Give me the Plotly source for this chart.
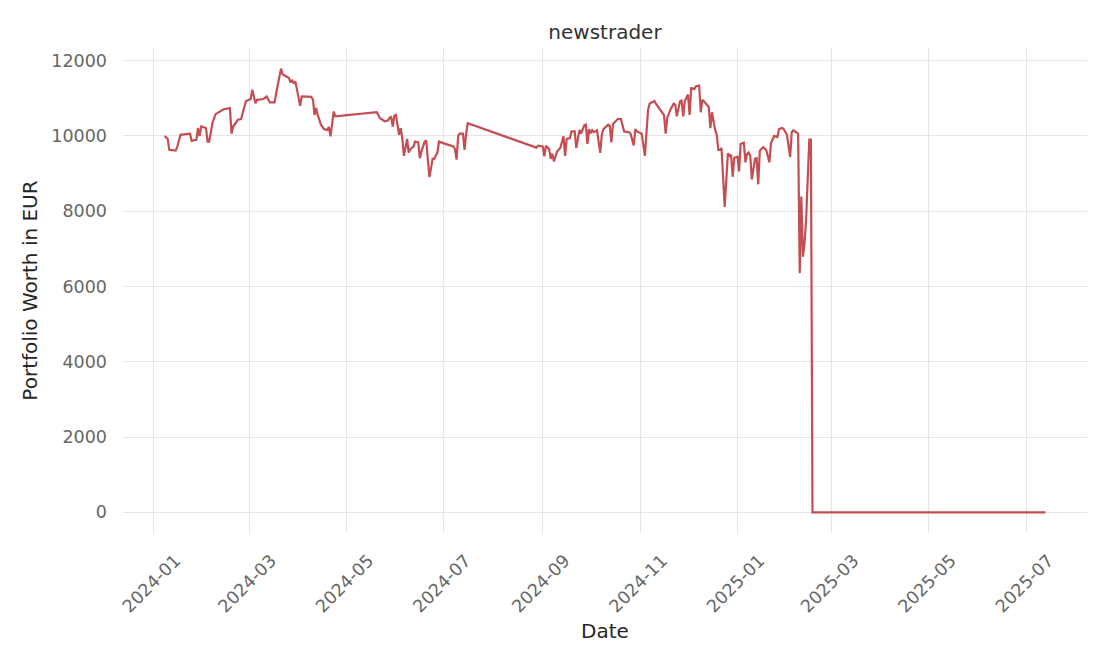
import plotly.graph_objects as go

# portfolio value of the "newstrader" run
dates = [
    "2024-01-08", "2024-01-10", "2024-01-11", "2024-01-15", "2024-01-16", "2024-01-18",
    "2024-01-24", "2024-01-25", "2024-01-28", "2024-01-29", "2024-01-30", "2024-01-31",
    "2024-02-03", "2024-02-04", "2024-02-05", "2024-02-07", "2024-02-09", "2024-02-12",
    "2024-02-14", "2024-02-18", "2024-02-19", "2024-02-20", "2024-02-23", "2024-02-25",
    "2024-02-28", "2024-03-02", "2024-03-03", "2024-03-05", "2024-03-06", "2024-03-10",
    "2024-03-12", "2024-03-14", "2024-03-17", "2024-03-18", "2024-03-21", "2024-03-22",
    "2024-03-25", "2024-03-26", "2024-03-27", "2024-03-28", "2024-03-29", "2024-03-30",
    "2024-03-31", "2024-04-02", "2024-04-03", "2024-04-09", "2024-04-10", "2024-04-11",
    "2024-04-12", "2024-04-13", "2024-04-15", "2024-04-17", "2024-04-19", "2024-04-20",
    "2024-04-21", "2024-04-23", "2024-04-24", "2024-05-20", "2024-05-22", "2024-05-25",
    "2024-05-27", "2024-05-28", "2024-05-29", "2024-05-30", "2024-05-31", "2024-06-01",
    "2024-06-03", "2024-06-04", "2024-06-05", "2024-06-06", "2024-06-08", "2024-06-09",
    "2024-06-10", "2024-06-12", "2024-06-13", "2024-06-15", "2024-06-16", "2024-06-17",
    "2024-06-19", "2024-06-20", "2024-06-21", "2024-06-22", "2024-06-24", "2024-06-25",
    "2024-06-27", "2024-06-28", "2024-07-02", "2024-07-05", "2024-07-07", "2024-07-08",
    "2024-07-09", "2024-07-10", "2024-07-11", "2024-07-13", "2024-07-14", "2024-07-15",
    "2024-07-16", "2024-08-28", "2024-08-29", "2024-09-01", "2024-09-02", "2024-09-03",
    "2024-09-05", "2024-09-06", "2024-09-07", "2024-09-08", "2024-09-10", "2024-09-12",
    "2024-09-14", "2024-09-15", "2024-09-16", "2024-09-18", "2024-09-19", "2024-09-21",
    "2024-09-22", "2024-09-24", "2024-09-25", "2024-09-27", "2024-09-28", "2024-09-29",
    "2024-09-30", "2024-10-01", "2024-10-02", "2024-10-03", "2024-10-05", "2024-10-07",
    "2024-10-08", "2024-10-09", "2024-10-12", "2024-10-13", "2024-10-14", "2024-10-15",
    "2024-10-18", "2024-10-20", "2024-10-22", "2024-10-25", "2024-10-26", "2024-10-28",
    "2024-10-29", "2024-10-30", "2024-11-02", "2024-11-04", "2024-11-05", "2024-11-06",
    "2024-11-07", "2024-11-10", "2024-11-11", "2024-11-14", "2024-11-16", "2024-11-17",
    "2024-11-18", "2024-11-20", "2024-11-22", "2024-11-23", "2024-11-24", "2024-11-26",
    "2024-11-27", "2024-11-28", "2024-11-29", "2024-12-01", "2024-12-02", "2024-12-03",
    "2024-12-05", "2024-12-06", "2024-12-08", "2024-12-09", "2024-12-10", "2024-12-11",
    "2024-12-13", "2024-12-14", "2024-12-15", "2024-12-16", "2024-12-18", "2024-12-19",
    "2024-12-20", "2024-12-21", "2024-12-22", "2024-12-23", "2024-12-24", "2024-12-26",
    "2024-12-27", "2024-12-28", "2024-12-29", "2024-12-30", "2025-01-01", "2025-01-02",
    "2025-01-03", "2025-01-05", "2025-01-06", "2025-01-07", "2025-01-08", "2025-01-09",
    "2025-01-10", "2025-01-12", "2025-01-13", "2025-01-14", "2025-01-15", "2025-01-17",
    "2025-01-19", "2025-01-21", "2025-01-22", "2025-01-24", "2025-01-26", "2025-01-27",
    "2025-01-29", "2025-01-30", "2025-01-31", "2025-02-01", "2025-02-03", "2025-02-04",
    "2025-02-05", "2025-02-07", "2025-02-08", "2025-02-09", "2025-02-10", "2025-02-11",
    "2025-02-12", "2025-02-13", "2025-02-15", "2025-02-16", "2025-02-17", "2025-07-13",
]

worth = [
    10000, 9920, 9630, 9610, 9710, 10030,
    10060, 9870, 9900, 10210, 10000, 10250,
    10210, 9850, 9850, 10340, 10580, 10650,
    10710, 10740, 10060, 10250, 10430, 10450,
    10920, 10980, 11230, 10870, 10960, 10980,
    11050, 10890, 10890, 11140, 11790, 11640,
    11580, 11540, 11420, 11490, 11390, 11450,
    11230, 10800, 11050, 11040, 10960, 10560,
    10740, 10560, 10300, 10180, 10160, 10240,
    9990, 10650, 10520, 10630, 10470, 10390,
    10410, 10480, 10500, 10250, 10540, 10560,
    10030, 10210, 9940, 9470, 9920, 9560,
    9650, 9720, 9850, 9830, 9410, 9590,
    9850, 9880, 9370, 8910, 9390, 9390,
    9560, 9850, 9790, 9740, 9720, 9650,
    9370, 10010, 10060, 10060, 9630, 10070,
    10340, 9690, 9740, 9720, 9460, 9740,
    9650, 9390, 9530, 9320, 9590, 9680,
    9990, 9470, 9920, 9940, 10120, 10120,
    9680, 10160, 10060, 10280, 10300, 9790,
    10180, 10070, 10150, 10100, 10150, 9550,
    10030, 10180, 10300, 10270, 9830, 10320,
    10450, 10450, 10120, 10100, 10060, 9750,
    10180, 10120, 10060, 9470, 10160, 10700,
    10860, 10930, 10850, 10650, 10550, 10060,
    10480, 10700, 10860, 10830, 10520, 10920,
    10940, 10520, 10920, 11100, 10560, 11270,
    11250, 11320, 11340, 10630, 10960, 10920,
    10830, 10770, 10210, 10630, 10160, 10030,
    9630, 9630, 9680, 9020, 8115, 9540,
    9470, 9500, 8915, 9420, 9450, 9060,
    9790, 9820, 9300, 9520, 9560, 9470,
    8845, 9400, 9410, 8715, 9610, 9700,
    9630, 9300, 9810, 10000, 9970, 10180,
    10210, 10180, 10120, 10030, 9440, 10100,
    10150, 10100, 10060, 6350, 8390, 6790,
    7150, 7770, 9900, 9900, 0, 0,
]

y_ticks = [0, 2000, 4000, 6000, 8000, 10000, 12000]

fig = go.Figure()
fig.add_trace(go.Scatter(
    x=dates, y=worth, mode="lines",
    line=dict(color="#c44e52", width=2.2),
    showlegend=False,
))

# the page body adds 8px on the top and left, margins allow for it
fig.update_layout(
    width=1110, height=666,
    margin=dict(l=115, r=31, t=40, b=141),
    paper_bgcolor="white", plot_bgcolor="white",
    font=dict(family="DejaVu Sans", color="#262626"),
    title=dict(text="newstrader", x=0.5, xref="paper", y=0.964, yanchor="middle",
               font=dict(size=20, color="#333333")),
)
fig.update_xaxes(
    type="date", range=["2023-12-13", "2025-08-08"],
    dtick="M2", tick0="2024-01-01", tickformat="%Y-%m", tickangle=-45,
    tickfont=dict(size=17.5, color="#666666"),
    ticklabelshift=22, ticklabelstandoff=13,
    showgrid=True, gridcolor="#e5e5e5", gridwidth=1,
    zeroline=False, showline=False, ticks="",
    title=dict(text="Date", font=dict(size=20, color="#262626"), standoff=8),
)
fig.update_yaxes(
    range=[-550, 12337], tickvals=y_ticks, tickformat="d",
    tickfont=dict(size=17.5, color="#666666"),
    ticklabelstandoff=15,
    showgrid=True, gridcolor="#e5e5e5", gridwidth=1,
    zeroline=False, showline=False, ticks="",
    title=dict(text="Portfolio Worth in EUR", font=dict(size=20, color="#262626"), standoff=8),
)

fig.write_html("out.html")
